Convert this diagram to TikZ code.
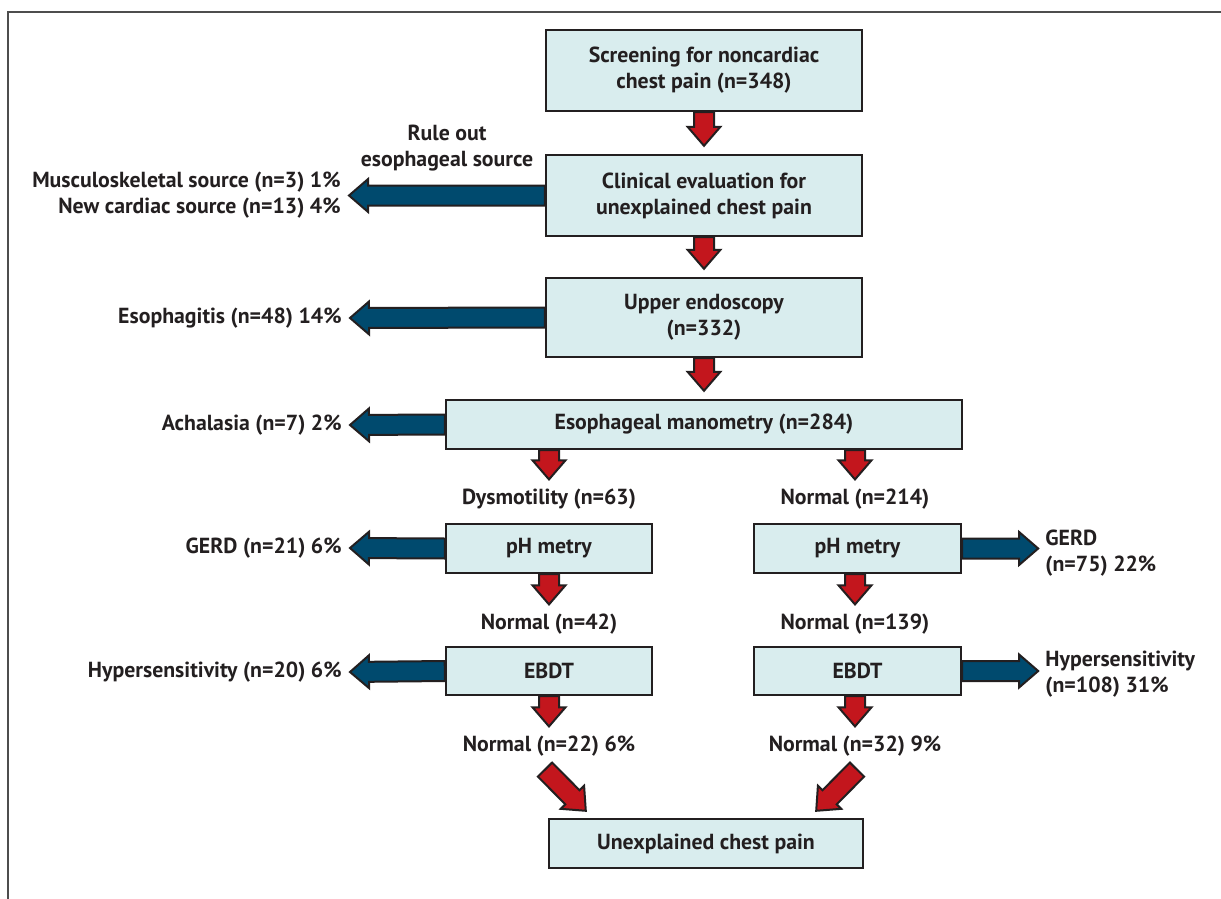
\documentclass[tikz,border=0pt]{standalone}
\usepackage{fontspec}
\setmainfont{PT Sans}
\usetikzlibrary{calc}
\definecolor{boxfill}{HTML}{D9EDEE}
\definecolor{edgec}{HTML}{231F20}
\definecolor{redarr}{HTML}{C3161D}
\definecolor{bluearr}{HTML}{004A6E}
\definecolor{framec}{HTML}{4D4D4D}
\tikzset{
  box/.style={draw=edgec, line width=1.2pt, fill=boxfill, inner sep=0pt, align=center, font=\bfseries\fontsize{10.9}{13}\selectfont, text=edgec},
  lbl/.style={inner sep=0pt, font=\bfseries\fontsize{10.9}{13}\selectfont, text=edgec},
  arrowedge/.style={draw=edgec, line width=1pt, line join=miter},
}
% block arrow: #1 start, #2 end, #3 colour
\newcommand\blockarrow[3]{%
  \coordinate (ba-s) at (#1);
  \coordinate (ba-e) at (#2);
  \coordinate (ba-h) at ($(ba-e)!9.5pt!(ba-s)$);
  \draw[arrowedge, fill=#3]
    ($(ba-s)!5pt!90:(ba-e)$) -- ($(ba-h)!5pt!90:(ba-e)$) -- ($(ba-h)!8.2pt!90:(ba-e)$)
    -- (ba-e) -- ($(ba-h)!8.2pt!-90:(ba-e)$) -- ($(ba-h)!5pt!-90:(ba-e)$)
    -- ($(ba-s)!5pt!-90:(ba-e)$) -- cycle;
}
\begin{document}
\begin{tikzpicture}[x=0.5pt,y=-0.5pt]
\useasboundingbox (0,0) rectangle (1221,899);
\draw[framec, line width=0.8pt] (8,899) -- (8,12) -- (1221,12);

% boxes
\node[box, minimum width=316*0.5pt, minimum height=81*0.5pt] (b1) at (704,70.5) {Screening for noncardiac\\chest pain (n=348)};
\node[box, minimum width=316*0.5pt, minimum height=81*0.5pt] (b2) at (704,195.5) {Clinical evaluation for\\unexplained chest pain};
\node[box, minimum width=316*0.5pt, minimum height=79*0.5pt] (b3) at (704,317.5) {Upper endoscopy\\(n=332)};
\node[box, minimum width=516*0.5pt, minimum height=49*0.5pt] (b4) at (704,424.5) {Esophageal manometry (n=284)};
\node[box, minimum width=206*0.5pt, minimum height=49*0.5pt] (phl) at (549,548.5) {pH metry};
\node[box, minimum width=207*0.5pt, minimum height=49*0.5pt] (phr) at (857.5,548.5) {pH metry};
\node[box, minimum width=206*0.5pt, minimum height=48*0.5pt] (ebl) at (549,671) {EBDT};
\node[box, minimum width=207*0.5pt, minimum height=48*0.5pt] (ebr) at (857.5,671) {EBDT};
\node[box, minimum width=314*0.5pt, minimum height=49*0.5pt] (b5) at (706,843.5) {Unexplained chest pain};

% intermediate labels
\node[lbl] (dys) at (549,499) {Dysmotility (n=63)};
\node[lbl] (nr1) at (855,499) {Normal (n=214)};
\node[lbl] (nl2) at (549,624) {Normal (n=42)};
\node[lbl] (nr2) at (855,624) {Normal (n=139)};
\node[lbl] (nl3) at (549,746) {Normal (n=22) 6\%};
\node[lbl] (nr3) at (855,746) {Normal (n=32) 9\%};

% side labels
\node[lbl, align=center] (rule) at (447,148) {Rule out\\esophageal source};
\node[lbl, anchor=east, align=right] (musc) at (341,195.5) {Musculoskeletal source (n=3) 1\%\\New cardiac source (n=13) 4\%};
\node[lbl, anchor=east] (esoph) at (342,318) {Esophagitis (n=48) 14\%};
\node[lbl, anchor=east] (acha) at (342,425) {Achalasia (n=7) 2\%};
\node[lbl, anchor=east] (gerdl) at (342,548) {GERD (n=21) 6\%};
\node[lbl, anchor=east] (hypl) at (342,672) {Hypersensitivity (n=20) 6\%};
\node[lbl, anchor=west, align=left] (gerdr) at (1045,553) {GERD\\(n=75) 22\%};
\node[lbl, anchor=west, align=left] (hypr) at (1045,674) {Hypersensitivity\\(n=108) 31\%};

% red arrows (down)
\blockarrow{b1.south}{$(b2.north)+(0,-8)$}{redarr}
\blockarrow{b2.south}{$(b3.north)+(0,-8)$}{redarr}
\blockarrow{b3.south}{$(b4.north)+(0,-8)$}{redarr}
\blockarrow{b4.south -| dys}{$(dys.north)+(0,-9)$}{redarr}
\blockarrow{b4.south -| nr1}{$(nr1.north)+(0,-9)$}{redarr}
\blockarrow{phl.south}{$(nl2.north)+(0,-9)$}{redarr}
\blockarrow{$(phr.south)+(-2.5,0)$}{$(nr2.north)+(0,-9)$}{redarr}
\blockarrow{ebl.south}{$(nl3.north)+(0,-9)$}{redarr}
\blockarrow{$(ebr.south)+(-2.5,0)$}{$(nr3.north)+(0,-9)$}{redarr}
\blockarrow{$(nl3.south)+(-4,13)$}{$(b5.north west)+(38,-7)$}{redarr}
\blockarrow{$(nr3.south)+(2,13)$}{$(b5.north east)+(-48,-7)$}{redarr}

% blue arrows
\blockarrow{b2.west}{$(musc.east)+(8,0)$}{bluearr}
\blockarrow{b3.west}{$(esoph.east)+(8,0)$}{bluearr}
\blockarrow{b4.west}{$(acha.east)+(8,0)$}{bluearr}
\blockarrow{phl.west}{$(gerdl.east)+(8,0)$}{bluearr}
\blockarrow{ebl.west}{$(hypl.east)+(8,0)$}{bluearr}
\blockarrow{phr.east}{$(phr.east)+(76,0)$}{bluearr}
\blockarrow{ebr.east}{$(ebr.east)+(76,0)$}{bluearr}
\end{tikzpicture}
\end{document}
